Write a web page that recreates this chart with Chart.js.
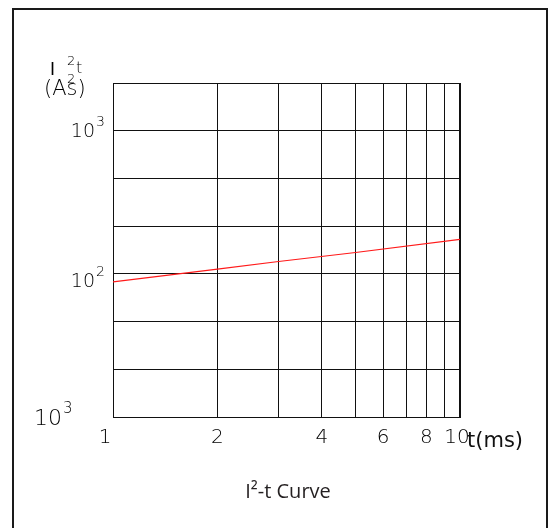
<!DOCTYPE html>
<html><head><meta charset="utf-8">
<script src="https://cdn.jsdelivr.net/npm/chart.js@4/dist/chart.umd.min.js"></script>
<style>html,body{margin:0;padding:0;background:#fff}</style>
</head><body><canvas id="c" width="552" height="528"></canvas>
<script>
// ---- data ----
const tValues = [1, 2, 3, 5, 10];                 // t (ms)
const i2tValues = [88, 108, 122, 141, 174];       // I²t (A²s)
const xGridValues = [1, 2, 3, 4, 5, 6, 7, 8, 9, 10];
const xTickLabels = ['1', '2', '', '4', '', '6', '', '8', '', '10'];
const yGridValues = [10, 21.54, 46.42, 100, 215.4, 464.2, 1000, 2154.4];
const yTickBase = ['10', '', '', '10', '', '', '10', ''];
const yTickExp = ['3', '', '', '2', '', '', '3', ''];
const xUnit = 't(ms)';
const yTitleTop = ['I', '2', 't'];
const yTitleBottom = ['(As)', '2'];
const chartTitle = 'I²-t Curve';

// ---- layout / style (not data) ----
const thin = '"DejaVu Sans"';
const yLabelStyle = [ {dx: -51, dy: 8, size: 22, sup: 15}, null, null,
  {dx: -18, dy: 13, size: 19, sup: 14}, null, null, {dx: -18, dy: 6, size: 19, sup: 14}, null ];

const textPlugin = {
  id: 'texts',
  beforeDraw(chart) {
    const ctx = chart.ctx;
    ctx.save();
    ctx.fillStyle = '#fff';
    ctx.fillRect(0, 0, chart.width, chart.height);
    ctx.strokeStyle = '#1a1a1a';
    ctx.lineWidth = 2;
    ctx.strokeRect(13, 9, 534, 560);
    ctx.restore();
  },
  afterDraw(chart) {
    const ctx = chart.ctx;
    const xs = chart.scales.x, ys = chart.scales.y;
    ctx.save();
    ctx.fillStyle = '#000';
    ctx.textBaseline = 'alphabetic';
    // x tick labels
    ctx.font = '200 20px ' + thin;
    ctx.textAlign = 'center';
    xGridValues.forEach((v, i) => {
      if (!xTickLabels[i]) return;
      let px = xs.getPixelForValue(v);
      if (i === 0) px -= 8;
      if (i === xGridValues.length - 1) px -= 3;
      ctx.fillText(xTickLabels[i], px, 443);
    });
    // unit
    ctx.fillStyle = '#111';
    ctx.font = '21px ' + thin;
    ctx.textAlign = 'left';
    ctx.fillText(xUnit, 467, 447);
    ctx.fillStyle = '#000';
    // y tick labels
    yGridValues.forEach((v, i) => {
      if (!yTickBase[i]) return;
      const st = yLabelStyle[i];
      const py = ys.getPixelForValue(v) + st.dy;
      const px = xs.left + st.dx;
      ctx.font = '200 ' + st.size + 'px ' + thin;
      ctx.textAlign = 'right';
      ctx.fillText(yTickBase[i], px, py);
      ctx.font = '200 ' + st.sup + 'px ' + thin;
      ctx.textAlign = 'left';
      ctx.fillText(yTickExp[i], px + 1, py - st.size * 0.55);
    });
    // y title
    ctx.textAlign = 'left';
    ctx.font = '17px ' + thin;
    ctx.fillText(yTitleTop[0], 50, 75);
    ctx.font = '200 13px ' + thin;
    ctx.fillText(yTitleTop[1], 67, 65);
    ctx.font = '200 16px ' + thin;
    ctx.fillText(yTitleTop[2], 76, 73);
    ctx.font = '200 21px ' + thin;
    ctx.fillText(yTitleBottom[0], 44, 95);
    ctx.font = '200 13px ' + thin;
    ctx.fillText(yTitleBottom[1], 67, 83);
    // title
    ctx.fillStyle = '#231f20';
    ctx.font = '20px "Open Sans"';
    ctx.textAlign = 'center';
    ctx.fillText(chartTitle, 288, 498);
    ctx.restore();
  }
};

new Chart(document.getElementById('c'), {
  type: 'line',
  data: {
    labels: tValues,
    datasets: [{
      data: tValues.map((t, i) => ({x: t, y: i2tValues[i]})),
      borderColor: '#ff1a1a',
      borderWidth: 1.2,
      pointRadius: 0,
      tension: 0,
      fill: false
    }]
  },
  options: {
    responsive: false,
    animation: false,
    devicePixelRatio: 1,
    layout: {padding: {left: 113, right: 92, top: 83, bottom: 111}},
    plugins: {legend: {display: false}, tooltip: {enabled: false}, title: {display: false}},
    scales: {
      x: {
        type: 'logarithmic', min: 1, max: 10,
        afterBuildTicks: (ax) => { ax.ticks = xGridValues.map(v => ({value: v})); },
        ticks: {display: false},
        grid: {color: '#111', lineWidth: (c) => (c.index === xGridValues.length - 1 ? 2 : 1), drawTicks: false},
        border: {display: true, color: '#111', width: 1}
      },
      y: {
        type: 'logarithmic', min: yGridValues[0], max: yGridValues[yGridValues.length - 1],
        afterBuildTicks: (ax) => { ax.ticks = yGridValues.map(v => ({value: v})); },
        ticks: {display: false},
        grid: {color: '#111', lineWidth: 1, drawTicks: false},
        border: {display: true, color: '#111', width: 1}
      }
    }
  },
  plugins: [textPlugin]
});
</script>
</body></html>
